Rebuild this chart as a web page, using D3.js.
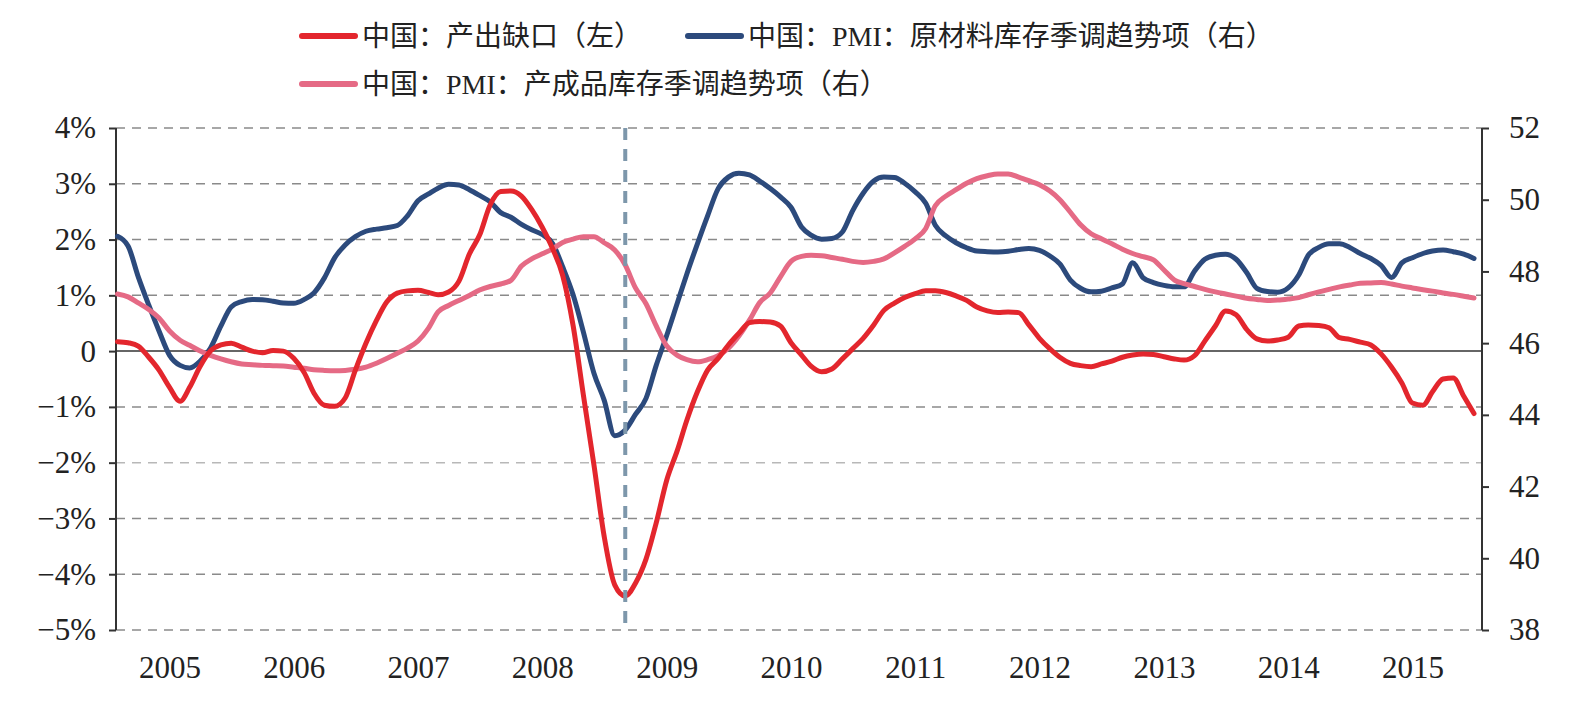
<!DOCTYPE html>
<meta charset="utf-8">
<style>
  body { margin: 0; background: #fff; }
  .tick-label { font-family: "Liberation Serif", "Times New Roman", serif; font-size: 31px; fill: #222; }
  .legend-label { font-family: "Liberation Serif", "Noto Sans CJK SC", serif; font-size: 28px; fill: #222; }
  .grid { stroke: #8a8a8a; stroke-width: 1.5px; stroke-dasharray: 9,7; }
  .series { fill: none; stroke-width: 5px; stroke-linejoin: round; stroke-linecap: round; }
</style>
<body>
<script src="https://cdnjs.cloudflare.com/ajax/libs/d3/7.8.5/d3.min.js"></script>
<script>

// monthly data, Aug 2004 .. Jul 2015
var startMonth = new Date(2004, 7, 1),
    endMonth = new Date(2015, 6, 1);

// 中国：产出缺口（左）, %
var outputGap = [
  0.17, 0.15, 0.09, -0.11, -0.34, -0.65, -0.90, -0.65, -0.27, 0.00,
  0.11, 0.14, 0.07, 0.00, -0.03, 0.01, 0.00, -0.13, -0.39, -0.75,
  -0.97, -0.99, -0.84, -0.34, 0.14, 0.55, 0.88, 1.04, 1.08, 1.09,
  1.05, 1.01, 1.06, 1.25, 1.74, 2.08, 2.62, 2.86, 2.87, 2.78,
  2.54, 2.22, 1.83, 1.36, 0.45, -0.79, -2.04, -3.32, -4.19, -4.39,
  -4.16, -3.73, -3.08, -2.31, -1.78, -1.24, -0.73, -0.34, -0.13, 0.11,
  0.32, 0.51, 0.53, 0.52, 0.45, 0.15, -0.07, -0.27, -0.37, -0.32,
  -0.14, 0.04, 0.23, 0.47, 0.73, 0.86, 0.96, 1.03, 1.08, 1.08,
  1.05, 0.99, 0.91, 0.79, 0.72, 0.69, 0.70, 0.69, 0.47, 0.23,
  0.04, -0.11, -0.22, -0.26, -0.28, -0.23, -0.18, -0.11, -0.07, -0.05,
  -0.06, -0.10, -0.14, -0.16, -0.08, 0.18, 0.45, 0.72, 0.65, 0.39,
  0.22, 0.18, 0.20, 0.25, 0.45, 0.47, 0.46, 0.42, 0.24, 0.21,
  0.16, 0.11, -0.05, -0.29, -0.57, -0.93, -0.97, -0.73, -0.50, -0.48,
  -0.81, -1.12
];

// 中国：PMI：原材料库存季调趋势项（右）
var rawMaterial = [
  48.98, 48.71, 47.85, 47.06, 46.34, 45.66, 45.38, 45.31, 45.50, 45.86,
  46.48, 47.01, 47.16, 47.22, 47.21, 47.17, 47.12, 47.11, 47.22, 47.40,
  47.82, 48.38, 48.74, 48.97, 49.12, 49.18, 49.22, 49.28, 49.55, 49.97,
  50.16, 50.32, 50.43, 50.41, 50.28, 50.12, 49.94, 49.64, 49.51, 49.31,
  49.16, 49.03, 48.77, 48.13, 47.34, 46.31, 45.16, 44.41, 43.42, 43.58,
  44.01, 44.46, 45.38, 46.22, 47.12, 47.93, 48.77, 49.55, 50.31, 50.63,
  50.74, 50.69, 50.52, 50.31, 50.08, 49.79, 49.24, 49.01, 48.90, 48.92,
  49.10, 49.69, 50.18, 50.52, 50.63, 50.62, 50.46, 50.22, 49.90, 49.29,
  48.99, 48.80, 48.66, 48.57, 48.55, 48.54, 48.56, 48.61, 48.64, 48.59,
  48.43, 48.21, 47.76, 47.53, 47.43, 47.45, 47.54, 47.65, 48.24, 47.82,
  47.69, 47.61, 47.57, 47.57, 48.01, 48.34, 48.45, 48.48, 48.34, 47.97,
  47.53, 47.44, 47.42, 47.54, 47.90, 48.45, 48.67, 48.77, 48.77, 48.67,
  48.50, 48.36, 48.17, 47.83, 48.24, 48.38, 48.50, 48.57, 48.60, 48.55,
  48.48, 48.36
];

// 中国：PMI：产成品库存季调趋势项（右）
var finishedGoods = [
  47.37, 47.29, 47.12, 46.94, 46.70, 46.34, 46.08, 45.94, 45.78, 45.66,
  45.56, 45.48, 45.42, 45.40, 45.38, 45.37, 45.36, 45.33, 45.30, 45.26,
  45.24, 45.23, 45.24, 45.27, 45.33, 45.44, 45.57, 45.72, 45.86, 46.06,
  46.42, 46.87, 47.05, 47.19, 47.33, 47.48, 47.58, 47.65, 47.75, 48.15,
  48.35, 48.49, 48.63, 48.81, 48.90, 48.97, 48.97, 48.80, 48.60, 48.18,
  47.54, 47.10, 46.48, 45.92, 45.66, 45.54, 45.48, 45.54, 45.65, 45.86,
  46.20, 46.64, 47.13, 47.40, 47.85, 48.28, 48.42, 48.45, 48.44, 48.39,
  48.34, 48.28, 48.25, 48.28, 48.35, 48.52, 48.70, 48.91, 49.20, 49.83,
  50.10, 50.28, 50.46, 50.59, 50.67, 50.72, 50.72, 50.63, 50.53, 50.42,
  50.24, 50.00, 49.65, 49.30, 49.05, 48.91, 48.77, 48.62, 48.50, 48.41,
  48.32, 48.04, 47.76, 47.66, 47.58, 47.50, 47.43, 47.37, 47.31, 47.25,
  47.22, 47.19, 47.20, 47.23, 47.27, 47.35, 47.43, 47.50, 47.57, 47.62,
  47.67, 47.68, 47.69, 47.65, 47.59, 47.54, 47.49, 47.45, 47.40, 47.36,
  47.31, 47.26
];

var leftTicks = [4, 3, 2, 1, 0, -1, -2, -3, -4, -5];
var rightTicks = [52, 50, 48, 46, 44, 42, 40, 38];
var yearLabels = ["2005", "2006", "2007", "2008", "2009", "2010", "2011", "2012", "2013", "2014", "2015"];
var markMonth = new Date(2008, 8, 1);   // 2008-09 dashed marker

var seriesNames = ["中国：产出缺口（左）", "中国：PMI：原材料库存季调趋势项（右）", "中国：PMI：产成品库存季调趋势项（右）"];
var seriesColors = ["#e3262d", "#2c4a7c", "#e56a85"];

var months = d3.timeMonth.range(startMonth, d3.timeMonth.offset(endMonth, 1));

var width = 1586, height = 701;
var plot = {left: 116, right: 1482, top: 128, bottom: 630};

var svg = d3.select("body").append("svg")
    .attr("width", width)
    .attr("height", height);

svg.append("rect").attr("width", width).attr("height", height).attr("fill", "#fff");

var x = d3.scaleTime().domain([startMonth, endMonth]).range([117.5, 1474]);
var yL = d3.scaleLinear().domain([-5, 4]).range([plot.bottom, plot.top]);
var yR = d3.scaleLinear().domain([38, 52]).range([plot.bottom, plot.top]);

// gridlines (the -2% one is fainter in the original)
svg.append("g").selectAll("line")
  .data(leftTicks.filter(function(d) { return d !== 0; }))
  .enter().append("line")
    .attr("class", "grid")
    .attr("stroke", function(d) { return d === -2 ? "#bbb" : null; })
    .style("stroke", function(d) { return d === -2 ? "#b8b8b8" : null; })
    .attr("x1", plot.left).attr("x2", plot.right)
    .attr("y1", function(d) { return yL(d); })
    .attr("y2", function(d) { return yL(d); });

// zero line
svg.append("line")
    .attr("x1", plot.left).attr("x2", plot.right)
    .attr("y1", yL(0)).attr("y2", yL(0))
    .attr("stroke", "#333").attr("stroke-width", 1.5);

// left axis
var fmtPct = function(d) { return d === 0 ? "0" : (d < 0 ? "\u2212" + (-d) : d) + "%"; };
var leftAxis = svg.append("g")
    .attr("transform", "translate(" + plot.left + ",0)")
    .call(d3.axisLeft(yL).tickValues(leftTicks).tickSize(7).tickPadding(13).tickFormat(fmtPct));

// right axis
var rightAxis = svg.append("g")
    .attr("transform", "translate(" + plot.right + ",0)")
    .call(d3.axisRight(yR).tickValues(rightTicks).tickSize(7).tickPadding(20).tickFormat(d3.format("d")));

[leftAxis, rightAxis].forEach(function(g) {
  g.select(".domain").attr("stroke", "#333").attr("stroke-width", 2)
      .attr("d", "M0," + plot.top + "V" + plot.bottom);
  g.selectAll(".tick line").attr("stroke", "#333").attr("stroke-width", 2);
  g.selectAll(".tick text").attr("class", "tick-label").attr("font-size", null).attr("font-family", null);
});

// year labels along the bottom
var xAxis = svg.append("g")
    .attr("transform", "translate(0," + plot.bottom + ")")
    .call(d3.axisBottom(x)
      .tickValues(yearLabels.map(function(y) { return new Date(+y, 0, 1); }))
      .tickSize(0).tickPadding(26)
      .tickFormat(function(d, i) { return yearLabels[i]; }));
xAxis.select(".domain").remove();
xAxis.selectAll(".tick text").attr("class", "tick-label").attr("font-size", null).attr("font-family", null);

// series
var seriesData = [outputGap, rawMaterial, finishedGoods];
var scales = [yL, yR, yR];
var drawOrder = [1, 2, 0];
drawOrder.forEach(function(k) {
  var line = d3.line()
      .x(function(d, i) { return x(months[i]); })
      .y(function(d) { return scales[k](d); })
      .curve(d3.curveMonotoneX);
  svg.append("path")
      .datum(seriesData[k])
      .attr("class", "series")
      .attr("stroke", seriesColors[k])
      .attr("d", line);
});

// 2008-09 marker
svg.append("line")
    .attr("x1", x(markMonth)).attr("x2", x(markMonth))
    .attr("y1", plot.top).attr("y2", plot.bottom)
    .attr("stroke", "#7d97ab").attr("stroke-width", 4)
    .attr("stroke-dasharray", "12,9");

// legend
var legendPos = [[300, 36], [686, 36], [300, 84]];
var legend = svg.append("g");
seriesNames.forEach(function(name, k) {
  var g = legend.append("g").attr("transform", "translate(" + legendPos[k][0] + "," + legendPos[k][1] + ")");
  g.append("line")
      .attr("x1", 2).attr("x2", 55)
      .attr("stroke", seriesColors[k]).attr("stroke-width", 6).attr("stroke-linecap", "round");
  g.append("text")
      .attr("class", "legend-label")
      .attr("x", 62).attr("dy", "0.36em")
      .text(name);
});

</script>
</body>
